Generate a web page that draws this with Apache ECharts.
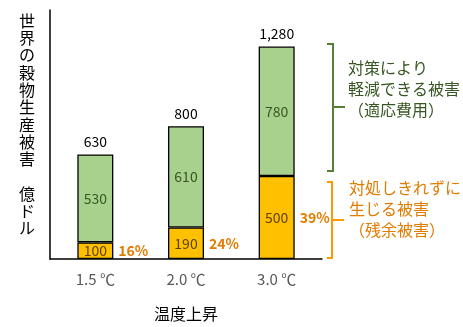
<!DOCTYPE html>
<html><head><meta charset="utf-8">
<script src="https://cdn.jsdelivr.net/npm/echarts@6/dist/echarts.min.js"></script>
<style>html,body{margin:0;padding:0;background:#fff}#c{width:463px;height:327px}</style>
</head><body><div id="c"></div>
<script>
const categories = ['1.5 ℃', '2.0 ℃', '3.0 ℃'];
const residualDamage = [100, 190, 500];
const adaptationCost = [530, 610, 780];
const totalDamage = [630, 800, 1280];
const percentLabels = ['16%', '24%', '39%'];
const yAxisTitle = '世界の穀物生産被害　億ドル';
const xAxisTitle = '温度上昇';
const greenNote = '対策により\n軽減できる被害\n（適応費用）';
const orangeNote = '対処しきれずに\n生じる被害\n（残余被害）';

const FONT = '"Noto Sans CJK JP", sans-serif';
const chart = echarts.init(document.getElementById('c'), null, {renderer: 'canvas'});
const BW = 36;
const option = {
  animation: false,
  grid: {left: 50, right: 141, top: 10, bottom: 67},
  xAxis: {
    type: 'category', data: categories,
    axisLine: {lineStyle: {color: '#000', width: 1.5}},
    axisTick: {show: false},
    axisLabel: {color: '#595959', fontSize: 15, fontFamily: FONT, margin: 13},
    name: xAxisTitle, nameLocation: 'middle', nameGap: 47,
    nameTextStyle: {color: '#000', fontSize: 16, fontFamily: FONT}
  },
  yAxis: {
    type: 'value', min: 0, max: 1500,
    axisLine: {show: true, lineStyle: {color: '#000', width: 1.5}},
    axisTick: {show: false}, axisLabel: {show: false}, splitLine: {show: false}
  },
  series: [
    {
      type: 'bar', stack: 'a', data: residualDamage, barWidth: BW, barGap: '-100%',
      itemStyle: {color: '#FFC000', borderColor: '#000', borderWidth: 1.3},
      label: {show: true, position: 'inside', color: '#5E4200', fontSize: 14, fontFamily: FONT}
    },
    {
      type: 'bar', stack: 'a', data: adaptationCost, barWidth: BW, barGap: '-100%',
      itemStyle: {color: '#A9D18E', borderColor: '#000', borderWidth: 1.3},
      label: {show: true, position: 'inside', color: '#375623', fontSize: 14, fontFamily: FONT}
    },
    {
      type: 'bar', data: totalDamage, barWidth: BW, barGap: '-100%', silent: true,
      itemStyle: {color: 'rgba(0,0,0,0)'}, z: 1,
      label: {show: true, position: 'top', distance: 6, color: '#000', fontSize: 14, fontFamily: FONT,
        formatter: p => p.value.toLocaleString('en-US')}
    },
    {
      type: 'bar', data: residualDamage, barWidth: BW, barGap: '-100%', silent: true,
      itemStyle: {color: 'rgba(0,0,0,0)'}, z: 1,
      label: {show: true, position: 'right', distance: 5, color: '#E07C00', fontSize: 14,
        fontWeight: 'bold', fontFamily: FONT,
        formatter: p => percentLabels[p.dataIndex]}
    }
  ],
  graphic: [
    {type: 'text', left: 19, top: 12, style: {
      text: yAxisTitle.split('').join('\n'), fill: '#000', font: '16px ' + FONT,
      lineHeight: 17.3, align: 'center'}},
    {type: 'polyline', shape: {points: [[327, 44], [333, 44], [333, 171], [327, 171]]},
      style: {stroke: '#548235', lineWidth: 2, fill: null}},
    {type: 'line', shape: {x1: 333, y1: 107, x2: 345, y2: 107}, style: {stroke: '#548235', lineWidth: 2}},
    {type: 'text', left: 348, top: 57, style: {text: greenNote, fill: '#375623', font: '16px ' + FONT, lineHeight: 21}},
    {type: 'polyline', shape: {points: [[327, 182], [332, 182], [332, 258], [327, 258]]},
      style: {stroke: '#FF9900', lineWidth: 2, fill: null}},
    {type: 'line', shape: {x1: 332, y1: 220, x2: 344, y2: 220}, style: {stroke: '#FF9900', lineWidth: 2}},
    {type: 'text', left: 349, top: 177, style: {text: orangeNote, fill: '#E07C00', font: '16px ' + FONT, lineHeight: 21}}
  ]
};
chart.setOption(option);
</script></body></html>
